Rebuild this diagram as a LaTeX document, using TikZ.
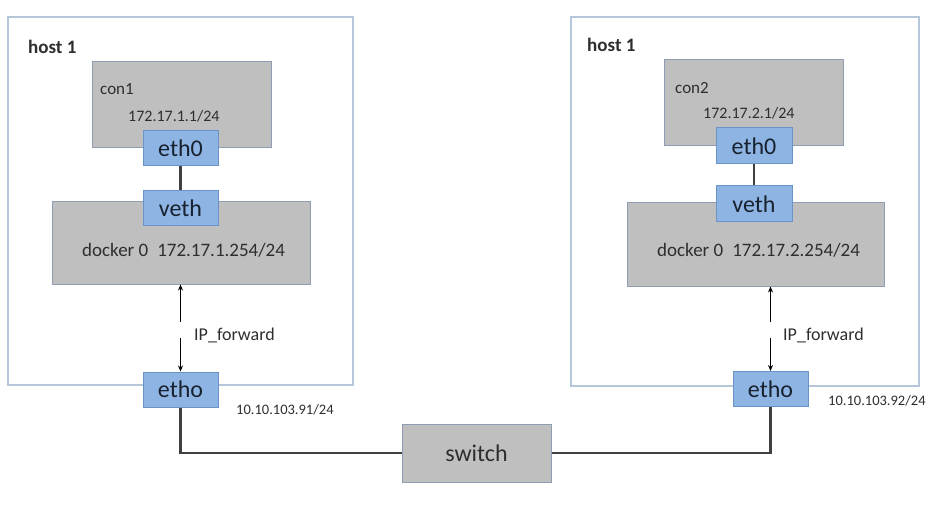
\documentclass[tikz,border=0pt]{standalone}
\usepackage{fontspec}
\setmainfont{Carlito}
\usetikzlibrary{arrows.meta}
\definecolor{hostline}{HTML}{B5C6DA}
\definecolor{grayfill}{HTML}{BFBFBF}
\definecolor{grayline}{HTML}{8C9DB4}
\definecolor{bluefill}{HTML}{8EB4E3}
\definecolor{blueline}{HTML}{6A93C8}
\definecolor{txtgray}{HTML}{2E2E2E}
\definecolor{txtblue}{HTML}{18222F}
\definecolor{wire}{HTML}{404040}

\begin{document}
\begin{tikzpicture}[x=1pt,y=-1pt,>={Stealth[length=6pt,width=5pt]},
  hostbox/.style={draw=hostline,line width=1.2pt,inner sep=0},
  graybox/.style={draw=grayline,fill=grayfill,line width=1pt,inner sep=0},
  ifbox/.style={draw=blueline,fill=bluefill,line width=1pt,inner sep=0,
    minimum width=75pt,minimum height=35pt,text=txtblue,
    font=\fontsize{24}{26}\selectfont},
  lbl/.style={inner sep=0,anchor=west,text=txtgray},
  wirel/.style={draw=wire,line width=2.2pt},
  fwdarrow/.style={->,line width=1pt,draw=black}]
  \useasboundingbox (0,0) rectangle (930,508);

  % left host
  \node[hostbox,minimum width=345pt,minimum height=368pt] (hostA) at (180.5,201) {};
  \node[lbl,font=\bfseries\fontsize{19}{21}\selectfont] (hostAlbl) at (28,47) {host 1};
  \node[graybox,minimum width=179pt,minimum height=86pt] (conA) at (181.5,105) {};
  \node[lbl,font=\fontsize{17}{19}\selectfont] (conAname) at (100,89) {con1};
  \node[lbl,font=\fontsize{16}{18}\selectfont] (conAip) at (128,116) {172.17.1.1/24};
  \node[graybox,minimum width=258pt,minimum height=82pt] (dockA) at (181,243) {};
  \node[lbl,font=\fontsize{19}{21}\selectfont] (dockAlbl) at (82,250) {docker 0\hspace{9pt}172.17.1.254/24};
  \node[ifbox] (ethA) at (180.5,148) {eth0};
  \node[ifbox] (vethA) at (180.5,208.5) {veth};
  \draw[wirel] (ethA) -- (vethA);
  \node[ifbox] (ethoA) at (180.5,389.5) {etho};
  \coordinate (gapAtop) at (180.5,322);
  \coordinate (gapAbot) at (180.5,338);
  \draw[fwdarrow] (gapAtop) -- (dockA.south -| gapAtop);
  \draw[fwdarrow] (gapAbot) -- (ethoA.north);
  \node[lbl,font=\fontsize{18}{20}\selectfont] (fwdA) at (194,335) {IP\_forward};
  \node[lbl,font=\fontsize{14.5}{16}\selectfont] (ipA) at (236,410) {10.10.103.91/24};

  % right host
  \node[hostbox,minimum width=348pt,minimum height=369pt] (hostB) at (745,201.5) {};
  \node[lbl,font=\bfseries\fontsize{19}{21}\selectfont] (hostBlbl) at (587,45) {host 1};
  \node[graybox,minimum width=179pt,minimum height=86pt] (conB) at (753.5,103) {};
  \node[lbl,font=\fontsize{17}{19}\selectfont] (conBname) at (675,88) {con2};
  \node[lbl,font=\fontsize{16}{18}\selectfont] (conBip) at (703,113) {172.17.2.1/24};
  \node[graybox,minimum width=257pt,minimum height=83pt] (dockB) at (755.5,244.5) {};
  \node[lbl,font=\fontsize{19}{21}\selectfont] (dockBlbl) at (657,250) {docker 0\hspace{9pt}172.17.2.254/24};
  \node[ifbox,minimum width=76pt,minimum height=36pt] (ethB) at (754,146) {eth0};
  \node[ifbox,minimum width=76pt,minimum height=36pt] (vethB) at (754,204) {veth};
  \draw[wirel] (ethB) -- (vethB);
  \node[ifbox] (ethoB) at (770.5,389) {etho};
  \coordinate (gapBtop) at (770.5,322);
  \coordinate (gapBbot) at (770.5,338);
  \draw[fwdarrow] (gapBtop) -- (dockB.south -| gapBtop);
  \draw[fwdarrow] (gapBbot) -- (ethoB.north);
  \node[lbl,font=\fontsize{18}{20}\selectfont] (fwdB) at (783,335) {IP\_forward};
  \node[lbl,font=\fontsize{14.5}{16}\selectfont] (ipB) at (828,401) {10.10.103.92/24};

  % switch
  \node[graybox,minimum width=149pt,minimum height=58pt,text=txtgray,
    font=\fontsize{24}{26}\selectfont] (sw) at (476.5,453) {switch};
  \draw[wirel] (ethoA.south) |- (sw.west);
  \draw[wirel] (ethoB.south) |- (sw.east);
\end{tikzpicture}
\end{document}
